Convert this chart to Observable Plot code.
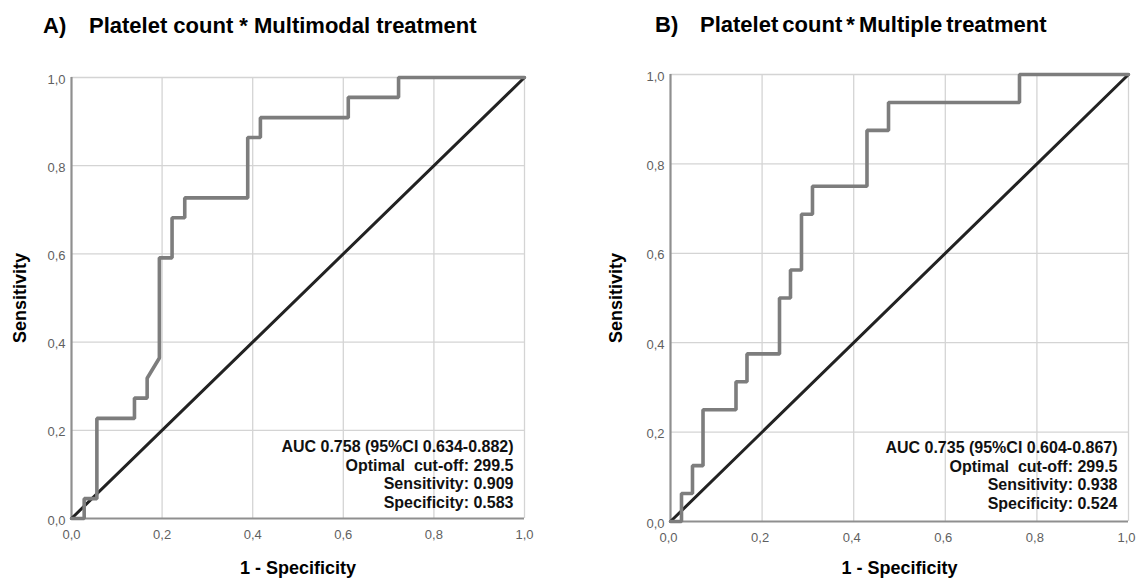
<!DOCTYPE html>
<html>
<head>
<meta charset="utf-8">
<script src="https://cdn.jsdelivr.net/npm/d3@7"></script>
<script src="https://cdn.jsdelivr.net/npm/@observablehq/plot@0.6"></script>
<style>
  body { margin: 0; background: #fff; font-family: "Liberation Sans", Arial, sans-serif; }
  #wrap { position: relative; width: 1136px; height: 580px; overflow: hidden; }
  .title { position: absolute; font-weight: bold; font-size: 22px; color: #000; white-space: nowrap; line-height: 1; }
  .panel { position: absolute; top: 0; }
</style>
</head>
<body>
<div id="wrap"></div>
<script>
// ---- data ----
const ticks = [0, 0.2, 0.4, 0.6, 0.8, 1.0];

const labelsA = ["A)", "Platelet count * Multimodal treatment"];
const labelsB = ["B)", "Platelet count * Multiple treatment"];
const xLabel = "1 - Specificity";
const yLabel = "Sensitivity";

// Panel A ROC vertices (1 - specificity, sensitivity)
const fprA = [0, 0.028, 0.028, 0.056, 0.056, 0.139, 0.139, 0.167, 0.167, 0.194, 0.194, 0.222, 0.222, 0.250, 0.250, 0.389, 0.389, 0.417, 0.417, 0.611, 0.611, 0.722, 0.722, 1.0];
const tprA = [0, 0, 0.045, 0.045, 0.227, 0.227, 0.273, 0.273, 0.318, 0.364, 0.591, 0.591, 0.682, 0.682, 0.727, 0.727, 0.864, 0.864, 0.909, 0.909, 0.955, 0.955, 1.0, 1.0];

// Panel B ROC vertices
const fprB = [0, 0.024, 0.024, 0.048, 0.048, 0.071, 0.071, 0.143, 0.143, 0.167, 0.167, 0.238, 0.238, 0.262, 0.262, 0.286, 0.286, 0.310, 0.310, 0.429, 0.429, 0.476, 0.476, 0.762, 0.762, 1.0];
const tprB = [0, 0, 0.0625, 0.0625, 0.125, 0.125, 0.25, 0.25, 0.3125, 0.3125, 0.375, 0.375, 0.5, 0.5, 0.5625, 0.5625, 0.6875, 0.6875, 0.75, 0.75, 0.875, 0.875, 0.9375, 0.9375, 1.0, 1.0];

const diagonal = [0, 1];

const notesA = ["AUC 0.758 (95%CI 0.634-0.882)", "Optimal  cut-off: 299.5", "Sensitivity: 0.909", "Specificity: 0.583"];
const notesB = ["AUC 0.735 (95%CI 0.604-0.867)", "Optimal  cut-off: 299.5", "Sensitivity: 0.938", "Specificity: 0.524"];

// ---- drawing ----
const wrap = document.getElementById("wrap");
const fmt = d => d.toFixed(1).replace(".", ",");
const FONT = "'Liberation Sans', Arial, sans-serif";

function panel(opts) {
  const pts = opts.fpr.map((f, i) => ({fpr: f, tpr: opts.tpr[i]}));
  const diag = diagonal.map(v => ({x: v, y: v}));
  const svg = Plot.plot({
    width: 568,
    height: 580,
    marginLeft: opts.ml, marginRight: opts.mr, marginTop: opts.mt, marginBottom: opts.mb,
    x: {domain: [0, 1], axis: null},
    y: {domain: [0, 1], axis: null},
    style: {fontFamily: FONT, color: "#666", background: "#fff", overflow: "visible"},
    marks: [
      Plot.gridX(ticks.slice(1), {stroke: "#d4d4d4", strokeOpacity: 1, strokeWidth: 1.3}),
      Plot.gridY(ticks.slice(1), {stroke: "#d4d4d4", strokeOpacity: 1, strokeWidth: 1.3}),
      Plot.ruleX([0], {stroke: "#8f8f8f", strokeWidth: 2.2}),
      Plot.ruleY([0], {stroke: "#8f8f8f", strokeWidth: 2.2}),
      Plot.axisX(ticks, {tickSize: 0, tickPadding: 11, tickFormat: fmt, fontSize: 13, fill: "#5f5f5f", dx: opts.axdx}),
      Plot.axisY(ticks, {tickSize: 0, tickPadding: 6, tickFormat: fmt, fontSize: 13, fill: "#5f5f5f", dy: 2}),
      Plot.line(diag, {x: "x", y: "y", stroke: "#222", strokeWidth: 3}),
      Plot.line(pts, {x: "fpr", y: "tpr", stroke: "#7d7d7d", strokeWidth: 3.6, strokeLinejoin: "miter"}),
      Plot.text([opts.notes.join("\n")], {
        frameAnchor: "bottom-right", textAnchor: "end", lineAnchor: "bottom",
        dx: opts.ndx, dy: opts.ndy, lineHeight: 1.15,
        fontSize: 16, fontWeight: "bold", fill: "#111"
      }),
      Plot.text([xLabel], {frameAnchor: "bottom", textAnchor: "middle", lineAnchor: "middle", dy: opts.xdy, fontSize: 18, fontWeight: "bold", fill: "#000"}),
      Plot.text([yLabel], {frameAnchor: "left", textAnchor: "middle", lineAnchor: "middle", dx: opts.ydx, rotate: -90, fontSize: 18, fontWeight: "bold", fill: "#000"})
    ]
  });
  svg.classList.add("panel");
  svg.style.left = opts.left + "px";
  wrap.appendChild(svg);

  const t1 = document.createElement("div");
  t1.className = "title"; t1.textContent = opts.labels[0];
  t1.style.left = opts.tx1 + "px"; t1.style.top = opts.ty + "px";
  const t2 = document.createElement("div");
  t2.className = "title"; t2.textContent = opts.labels[1];
  t2.style.left = opts.tx2 + "px"; t2.style.top = opts.ty + "px";
  t2.style.wordSpacing = opts.ws + "px";
  wrap.appendChild(t1); wrap.appendChild(t2);
}

panel({left: 0, ml: 71, mr: 44, mt: 77, mb: 62, fpr: fprA, tpr: tprA, notes: notesA, axdx: 0,
       ndx: -11, ndy: -11, xdy: 50, ydx: -51, labels: labelsA, tx1: 43, tx2: 89, ty: 15, ws: 0});
panel({left: 568, ml: 102, mr: 8, mt: 74, mb: 59, fpr: fprB, tpr: tprB, notes: notesB, axdx: -2,
       ndx: -11, ndy: -13, xdy: 47, ydx: -54, labels: labelsB, tx1: 655, tx2: 700, ty: 14, ws: -2});
</script>
</body>
</html>
